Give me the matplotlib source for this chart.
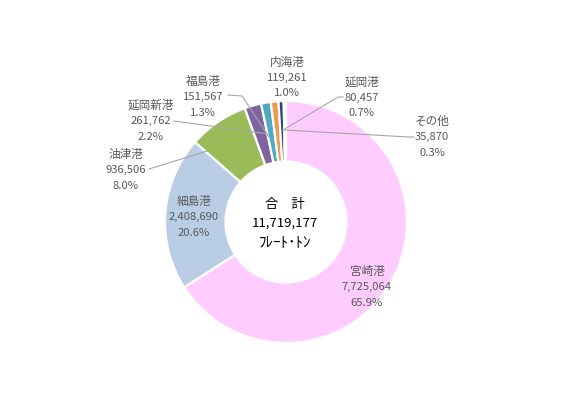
import matplotlib
matplotlib.use("Agg")
import matplotlib.pyplot as plt
import numpy as np

plt.rcParams['font.family'] = ['Noto Sans CJK JP', 'DejaVu Sans']

# ---- data ----
ports = ['宮崎港', '細島港', '油津港', '延岡新港', '福島港', '内海港', '延岡港', 'その他']
values = [7725064, 2408690, 936506, 261762, 151567, 119261, 80457, 35870]
colors = ['#FFCCFF', '#B9CDE5', '#9BBB59', '#8064A2', '#4BACC6', '#F79646', '#1F497D', '#F2F2F2']
center_title = '合　計'
center_unit = 'ﾌﾚｰﾄ･ﾄﾝ'

# ---- layout (pixel positions of label blocks, leader specs) ----
W, H = 577, 419
CX, CY, R = 286, 222, 121
label_pos = [(367, 287), (194, 217), (126, 170), (151, 121), (203, 97), (287, 78), (362, 98), (432, 137)]
# leader: (start pixel list, fraction within wedge, radius) or None
leaders = [None, None,
           ([(149, 169)], 0.05, 0.87),
           ([(174, 121)], 0.85, 0.75),
           ([(228, 95), (242, 96)], 0.10, 0.72),
           None,
           ([(343, 97), (338, 97)], 0.68, 0.76),
           ([(414, 137), (409, 137)], 0.30, 0.76)]

fig = plt.figure(figsize=(W / 100, H / 100), dpi=100)
ax = fig.add_axes([(CX - R) / W, (H - CY - R) / H, 2 * R / W, 2 * R / H])
ax.axis('off')

ax.pie(values, colors=colors, startangle=90, counterclock=False, radius=1.0,
       wedgeprops=dict(width=0.5, edgecolor='white', linewidth=1.6))
ax.set_xlim(-1, 1)
ax.set_ylim(-1, 1)
ax.set_aspect('equal')

def p2d(px, py):
    return ((px - CX) / R, (CY - py) / R)

total = sum(values)
fracs = np.array(values) / total
cum = np.concatenate([[0], np.cumsum(fracs)])

gray = '#595959'
line_h = 15.5
for i, name in enumerate(ports):
    lx, ly = label_pos[i]
    lines = [name, f'{values[i]:,}', f'{fracs[i]*100:.1f}%']
    for k, s in enumerate(lines):
        x, y = p2d(lx, ly + (k - 1) * line_h)
        ax.text(x, y, s, ha='center', va='center',
                fontsize=8.4 if k == 0 else 8.1, color=gray)
    ld = leaders[i]
    if ld is not None:
        pts, f, r = ld
        c = cum[i] + f * (cum[i + 1] - cum[i])
        ang = np.deg2rad(90 - 360 * c)
        xs = [p2d(*p)[0] for p in pts] + [r * np.cos(ang)]
        ys = [p2d(*p)[1] for p in pts] + [r * np.sin(ang)]
        ax.plot(xs, ys, color='#A6A6A6', lw=0.8, clip_on=False, zorder=5)

# center text
cx0, cy0 = 285, 223
center_lines = [center_title, f'{total:,}', center_unit]
center_sizes = [9.5, 9.5, 10.8]
for k, s in enumerate(center_lines):
    x, y = p2d(cx0, cy0 + (k - 1) * 19)
    ax.text(x, y, s, ha='center', va='center', fontsize=center_sizes[k],
            color='black')

fig.savefig('out.png', dpi=100)
